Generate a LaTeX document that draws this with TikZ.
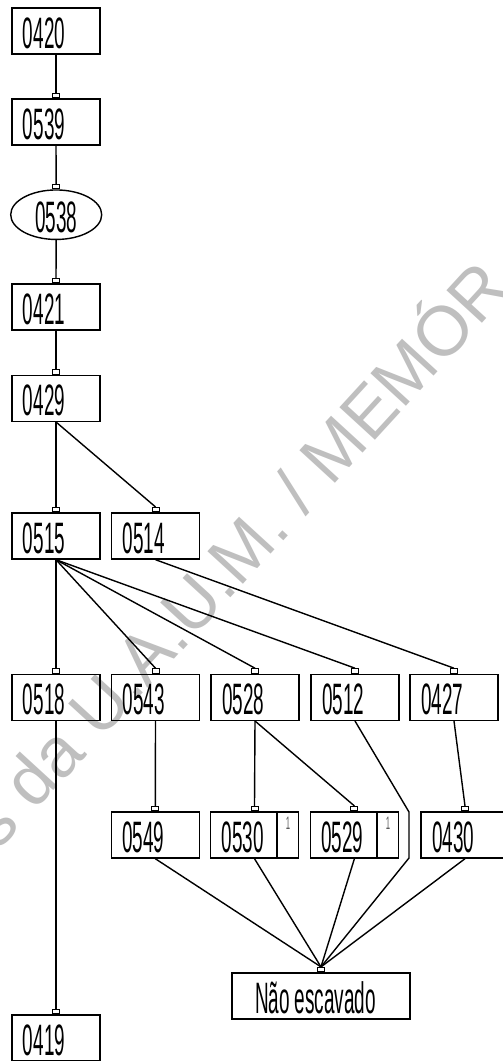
\documentclass[tikz,border=0pt]{standalone}
\usepackage{fontspec}
\setmainfont{Liberation Sans}
\newfontfamily\nf[FakeStretch=0.43]{Liberation Sans}
\usetikzlibrary{calc,shapes.geometric}
\newcommand\boxlbl[1]{\makebox[66pt][l]{#1}}
\begin{document}
\begin{tikzpicture}[x=1pt,y=-1pt,
  box/.style={draw, line width=1.4pt, minimum width=88pt, minimum height=46pt, inner sep=0pt,
    font=\nf\fontsize{44}{44}\selectfont, text height=35pt, text depth=0pt},
  oval/.style={draw, ellipse, line width=1.4pt, minimum width=91pt, minimum height=46pt, inner sep=0pt,
    font=\nf\fontsize{44}{44}\selectfont, text height=35pt, text depth=0pt},
  port/.style={draw, line width=0.9pt, minimum width=7pt, minimum height=4.5pt, inner sep=0pt, anchor=south},
  conn/.style={line width=1.4pt},
  cellnum/.style={font=\nf\fontsize{18}{18}\selectfont, text=black!65, inner sep=0pt, anchor=north},
  wmark/.style={font=\fontsize{70}{70}\selectfont, text=black!25, inner sep=0pt, anchor=base west, rotate=47.5}
]
\useasboundingbox (0,0) rectangle (503,1061);
\clip (0,0) rectangle (503,1061);
\fill[white] (0,0) rectangle (503,1061);

% watermark
\node[wmark] (wm) at (-2,852) {s da U.A.U.M. / MEMÓR};

% nodes
\node[box] (n0420) at (56,31) {\boxlbl{0420}};
\node[box] (n0539) at (56,122) {\boxlbl{0539}};
\node[oval] (n0538) at (56.2,214.7) {0538};
\node[box] (n0421) at (56,307) {\boxlbl{0421}};
\node[box] (n0429) at (56,398.3) {\boxlbl{0429}};
\node[box] (n0515) at (56,536) {\boxlbl{0515}};
\node[box] (n0514) at (155.5,536) {\boxlbl{0514}};
\node[box] (n0518) at (56,697.3) {\boxlbl{0518}};
\node[box] (n0543) at (155.5,697.3) {\boxlbl{0543}};
\node[box] (n0528) at (255,697.3) {\boxlbl{0528}};
\node[box] (n0512) at (355,697.3) {\boxlbl{0512}};
\node[box] (n0427) at (454,697.3) {\boxlbl{0427}};
\node[box] (n0549) at (155.3,835) {\boxlbl{0549}};
\node[box] (n0530) at (254.5,835) {\boxlbl{0530}};
\node[box] (n0529) at (354.4,835) {\boxlbl{0529}};
\node[box] (n0430) at (465,835) {\boxlbl{0430}};
\node[box, minimum width=178pt] (nNao) at (321,996) {\makebox[132pt][l]{Não escavado}};
\node[box] (n0419) at (56,1038) {\boxlbl{0419}};

% sub-cells
\draw[line width=1.4pt] ($(n0530.north east)+(-22.3,0)$) -- ($(n0530.south east)+(-22.3,0)$);
\draw[line width=1.4pt] ($(n0529.north east)+(-22.3,0)$) -- ($(n0529.south east)+(-22.3,0)$);
\node[cellnum] (c0530) at ($(n0530.north east)+(-11.2,6)$) {1};
\node[cellnum] (c0529) at ($(n0529.north east)+(-11.2,6)$) {1};

% ports
\foreach \n in {0539,0538,0421,0429,0515,0514,0518,0543,0528,0512,0427,0549,0530,0529,0430,Nao,0419}{
  \node[port] (p\n) at (n\n.north) {};
}

% bend coordinates
\coordinate (b1) at (409,812);
\coordinate (b2) at (409,858);

% connectors
\draw[conn] (n0420.south) -- (p0539.north);
\draw[conn] (n0539.south) -- (p0538.north);
\draw[conn] (n0538.south) -- (p0421.north);
\draw[conn] (n0421.south) -- (p0429.north);
\draw[conn] (n0429.south) -- (p0515.north);
\draw[conn] (n0429.south) -- (p0514.north);
\draw[conn] (n0515.south) -- (p0518.north);
\draw[conn] (n0515.south) -- (p0543.north);
\draw[conn] (n0515.south) -- (p0528.north);
\draw[conn] (n0515.south) -- (p0512.north);
\draw[conn] (n0514.south) -- (p0427.north);
\draw[conn] (n0518.south) -- (p0419.north);
\draw[conn] (n0543.south) -- (p0549.north);
\draw[conn] (n0528.south) -- (p0530.north);
\draw[conn] (n0528.south) -- (p0529.north);
\draw[conn] (n0427.south) -- (p0430.north);
\draw[conn] (n0512.south) -- (b1) -- (b2) -- (pNao.north);
\draw[conn] (n0549.south) -- (pNao.north);
\draw[conn] (n0530.south) -- (pNao.north);
\draw[conn] (n0529.south) -- (pNao.north);
\draw[conn] (n0430.south) -- (pNao.north);
\end{tikzpicture}
\end{document}
